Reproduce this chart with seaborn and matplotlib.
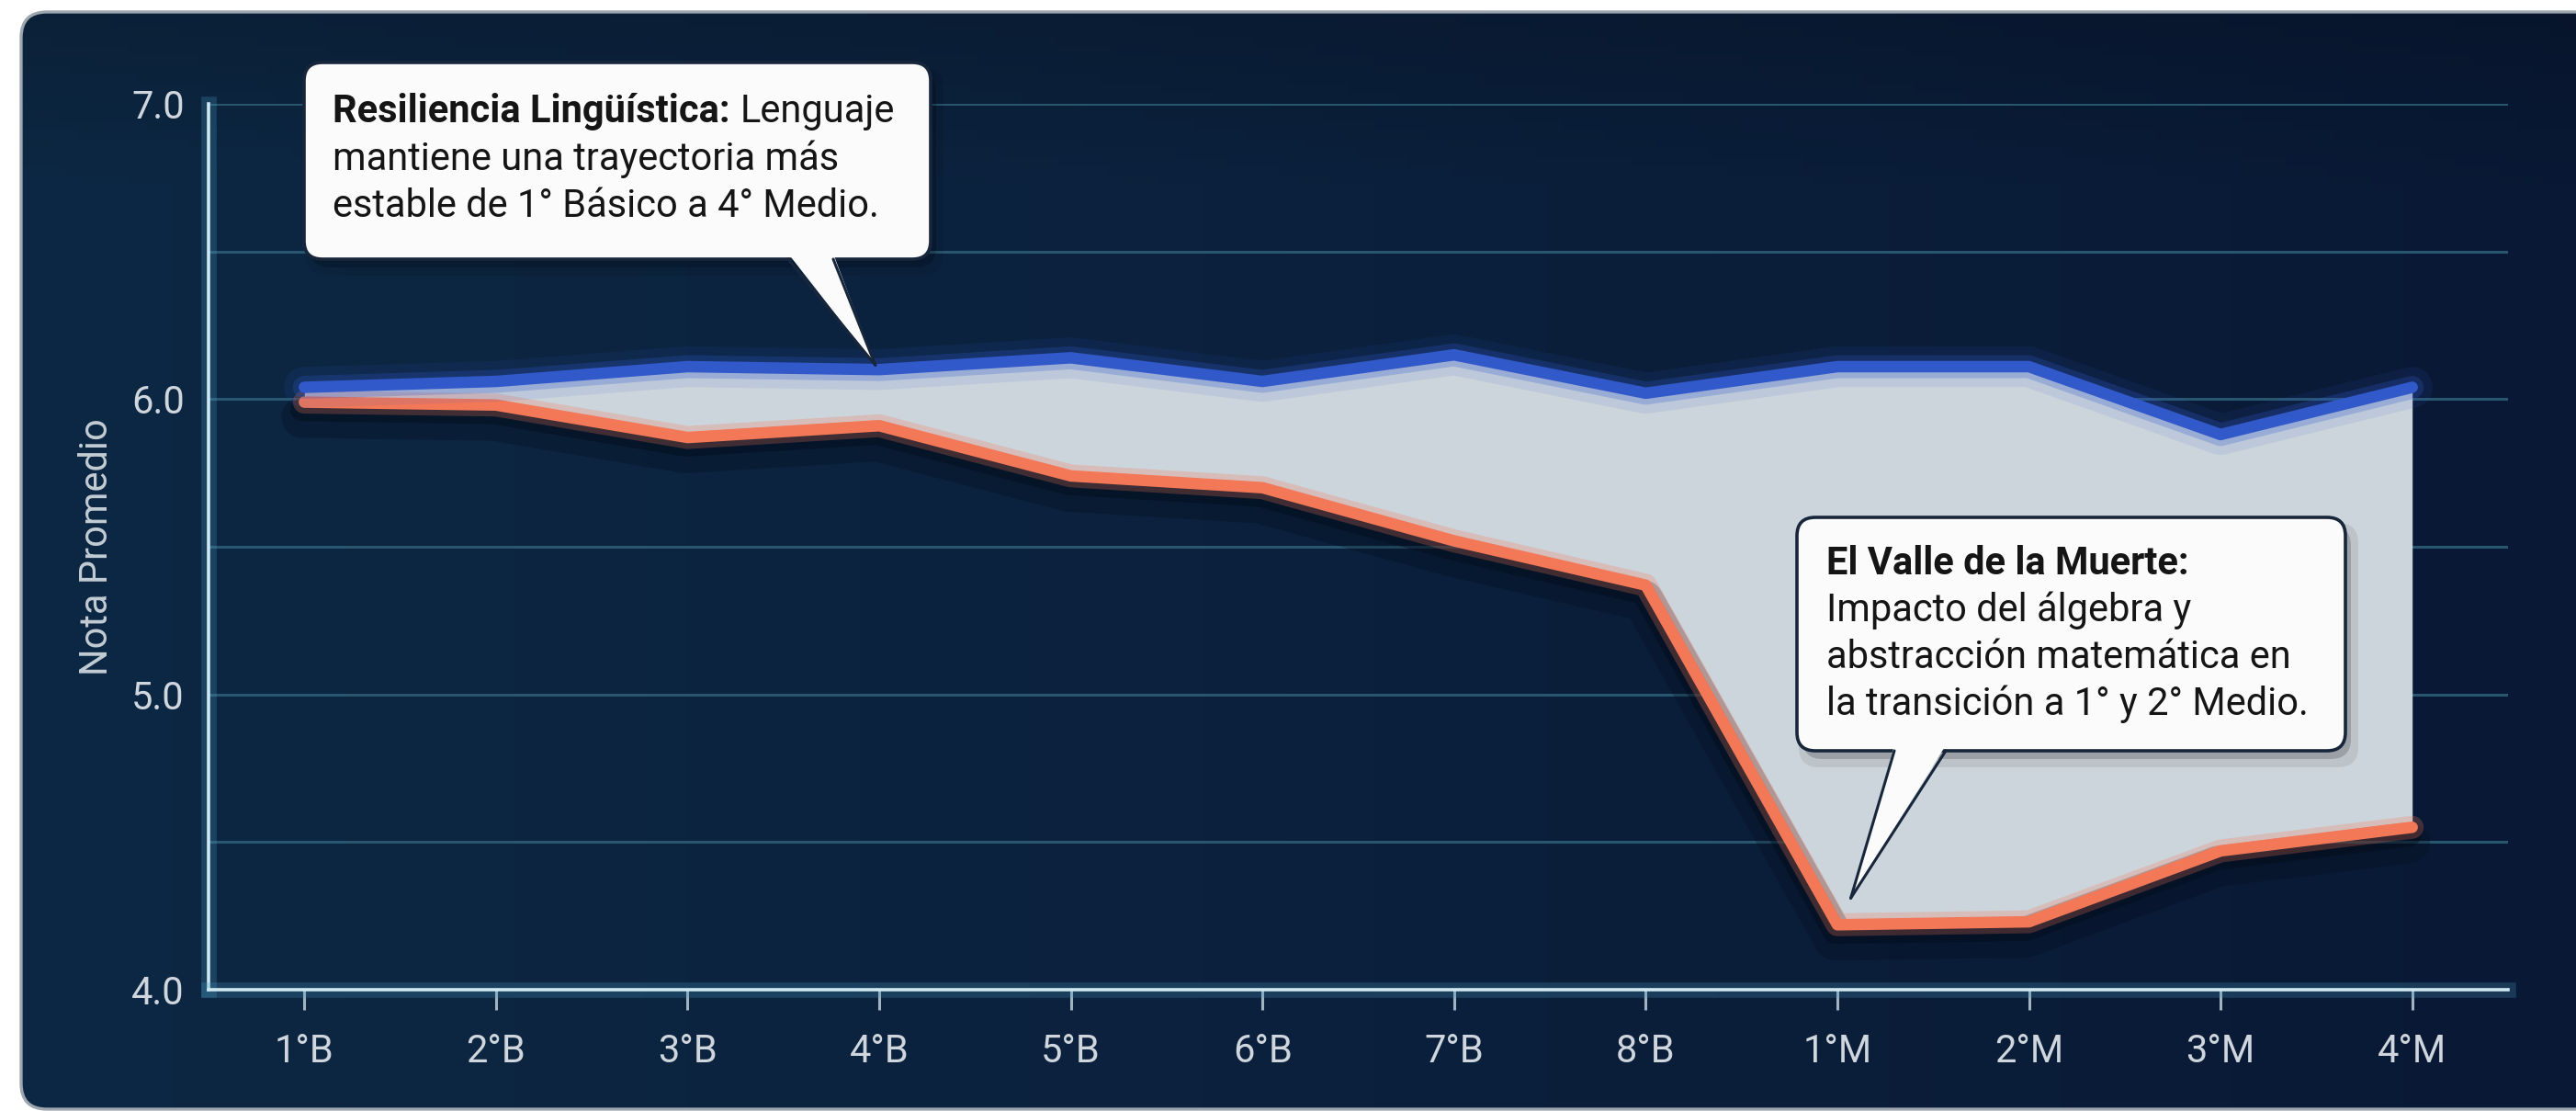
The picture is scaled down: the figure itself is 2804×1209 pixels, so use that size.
import numpy as np
import matplotlib
matplotlib.use("Agg")
import matplotlib.pyplot as plt
import matplotlib.patheffects as pe
from matplotlib.patches import FancyBboxPatch, Polygon
from matplotlib.lines import Line2D
from matplotlib.transforms import IdentityTransform
import seaborn as sns

# ---- data -------------------------------------------------------------
grades = ["1°B", "2°B", "3°B", "4°B", "5°B", "6°B", "7°B", "8°B",
          "1°M", "2°M", "3°M", "4°M"]
lenguaje = [6.04, 6.06, 6.11, 6.10, 6.14, 6.06, 6.15, 6.02, 6.11, 6.11, 5.88, 6.04]
matematica = [5.99, 5.98, 5.87, 5.91, 5.74, 5.70, 5.52, 5.37, 4.22, 4.23, 4.47, 4.55]
y_major = [4.0, 5.0, 6.0, 7.0]
y_minor = [4.5, 5.5, 6.5]

note_lang_title = "Resiliencia Lingüística:"
note_lang_rest = "Lenguaje"
note_lang_lines = ["mantiene una trayectoria más", "estable de 1° Básico a 4° Medio."]
note_math_title = "El Valle de la Muerte:"
note_math_lines = ["Impacto del álgebra y", "abstracción matemática en",
                   "la transición a 1° y 2° Medio."]

# ---- style ------------------------------------------------------------
W, H, DPI = 2804, 1209, 200
BLUE = "#3159c9"
ORANGE = "#f27858"
FILL = "#cdd5dc"
GRID = "#29566f"
SPINE = "#cfe8f0"
TXT = "#cfd6dd"
INK = "#151515"

sns.set_theme(style="dark")
plt.rcParams["font.family"] = ["Roboto", "DejaVu Sans"]

fig = plt.figure(figsize=(W / DPI, H / DPI), dpi=DPI, facecolor="white")

# background panel with a soft gradient
bg = fig.add_axes([0, 0, 1, 1], zorder=-10)
bg.set_xlim(0, W)
bg.set_ylim(0, H)
bg.axis("off")
nx, ny = 300, 120
tx = np.linspace(0, 1, nx)[None, :, None]
ty = np.linspace(0, 1, ny)[:, None, None]
left_c = np.array([13, 40, 68]) / 255
right_c = np.array([9, 25, 53]) / 255
grad = left_c * (1 - tx) + right_c * tx
grad = grad * (0.82 + 0.18 * np.clip(ty * 6, 0, 1))
grad = np.clip(grad, 0, 1)
panel = FancyBboxPatch((23, 2), W + 40, H - 15,
                       boxstyle="round,pad=0,rounding_size=28",
                       fc="none", ec="#9ea7b0", lw=1.2, zorder=2)
bg.add_patch(panel)
im = bg.imshow(grad, extent=(0, W, 0, H), aspect="auto", origin="upper", zorder=1)
im.set_clip_path(panel)

# ---- main axes --------------------------------------------------------
ax = fig.add_axes([227 / W, 1 - 1077 / H, (2730 - 227) / W, (1077 - 113) / H])
ax.set_facecolor("none")
x = np.arange(len(grades))

ax.fill_between(x, matematica, lenguaje, color=FILL, lw=0, zorder=1)

sns.lineplot(x=x, y=lenguaje, ax=ax, color=BLUE, linewidth=4.5, zorder=4,
             solid_joinstyle="round", solid_capstyle="round",
             path_effects=[pe.Stroke(linewidth=16, foreground=BLUE, alpha=0.10),
                           pe.Stroke(linewidth=9, foreground=BLUE, alpha=0.25),
                           pe.Normal()])
sns.lineplot(x=x, y=matematica, ax=ax, color=ORANGE, linewidth=4.5, zorder=3,
             solid_joinstyle="round", solid_capstyle="round",
             path_effects=[pe.SimpleLineShadow(offset=(-1, -6), shadow_color="#020a16",
                                               alpha=0.25, rho=1, linewidth=16),
                           pe.SimpleLineShadow(offset=(-1, -3), shadow_color="#020a16",
                                               alpha=0.4, rho=1, linewidth=9),
                           pe.Stroke(linewidth=9, foreground=ORANGE, alpha=0.25),
                           pe.Normal()])

ax.set_xlim(-0.5, 11.5)
ax.set_ylim(4.0, 7.0)
ax.set_xticks(x)
ax.set_xticklabels(grades)
ax.set_yticks(y_major)
ax.set_yticklabels([f"{v:.1f}" for v in y_major])
ax.set_yticks(y_minor, minor=True)
ax.set_axisbelow(True)
ax.grid(axis="y", which="both", color=GRID, linewidth=1.1)
ax.grid(axis="x", visible=False)

for side in ("top", "right"):
    ax.spines[side].set_visible(False)
for side in ("left", "bottom"):
    ax.spines[side].set_visible(True)
    ax.spines[side].set_color(SPINE)
    ax.spines[side].set_linewidth(1.3)
    ax.spines[side].set_path_effects([pe.Stroke(linewidth=6, foreground="#4a9cc0", alpha=0.25),
                                      pe.Normal()])

ax.tick_params(axis="x", which="major", bottom=True, length=8, width=1.1,
               color="#9fb4c0", pad=9, labelsize=15, labelcolor=TXT)
ax.tick_params(axis="y", which="both", left=False, length=0, pad=9.5,
               labelsize=15, labelcolor=TXT)
ax.set_xlabel("")
ax.set_ylabel("Nota Promedio", fontsize=15, color="#c3ccd4")
ax.yaxis.set_label_coords(-0.0403, 0.5)


# ---- callouts (pixel layout, top-left origin) --------------------------
def callout(x0, y0, x1, y1, base_l, base_r, tip_data, edge="#17263a"):
    ident = IdentityTransform()
    for dx, dy, a, grow in ((6, -9, 0.18, 0), (8, -12, 0.08, 6)):
        sh = FancyBboxPatch((x0 + dx - grow, H - y1 + dy - grow), x1 - x0 + 2 * grow,
                            y1 - y0 + 2 * grow,
                            boxstyle="round,pad=0,rounding_size=22",
                            fc="black", ec="none", alpha=a, transform=ident, zorder=5)
        fig.add_artist(sh)
    box = FancyBboxPatch((x0, H - y1), x1 - x0, y1 - y0,
                         boxstyle="round,pad=0,rounding_size=20",
                         fc="#fbfbfb", ec=edge, lw=1.3, transform=ident, zorder=6)
    fig.add_artist(box)
    tip = ax.transData.transform(tip_data)
    poly = Polygon([(base_l, H - y1 + 6), tuple(tip), (base_r, H - y1 + 6)],
                   closed=True, fc="#fbfbfb", ec="none", transform=ident, zorder=7)
    fig.add_artist(poly)
    for bx in (base_l, base_r):
        fig.add_artist(Line2D([bx, tip[0]], [H - y1, tip[1]], color=edge, lw=1.1,
                              transform=ident, zorder=7))


def put(xp, yp, s, **kw):
    return fig.text(xp / W, 1 - yp / H, s, fontsize=15, color=INK, va="baseline",
                    ha="left", zorder=8, **kw)


callout(331, 68, 1013, 282, 858, 907, (2.98, 6.115))
t = put(362, 133, note_lang_title, weight="bold")
fig.add_artist(plt.matplotlib.text.Annotation(
    note_lang_rest, xy=(1, 0), xycoords=t, xytext=(4, 0), textcoords="offset points",
    va="bottom", ha="left", fontsize=15, color=INK, zorder=8))
for i, line in enumerate(note_lang_lines):
    put(362, 185 + 51 * i, line)

callout(1956, 563, 2553, 817, 2062, 2118, (8.07, 4.31))
put(1988, 625, note_math_title, weight="bold")
for i, line in enumerate(note_math_lines):
    put(1988, 676 + 51 * i, line)

fig.savefig("out.png", dpi=DPI, facecolor="white")
plt.close(fig)
